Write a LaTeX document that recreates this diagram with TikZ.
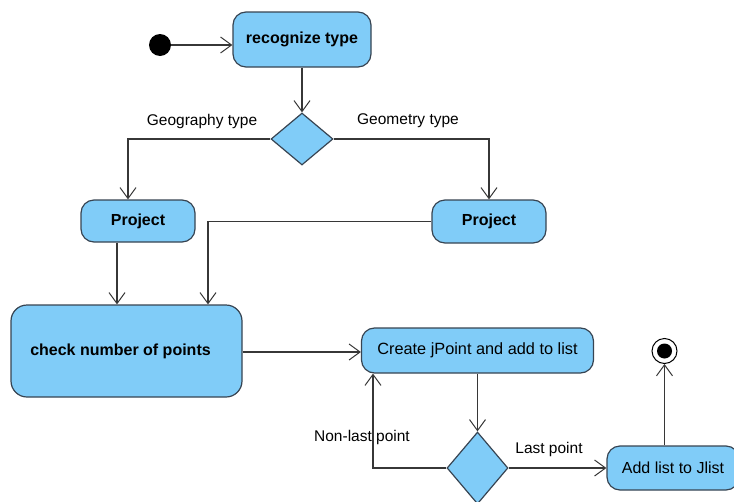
\documentclass[tikz,border=0pt]{standalone}
\usepackage{fontspec}
\setmainfont{Liberation Sans}
\usetikzlibrary{arrows.meta,shapes.geometric}
\definecolor{boxfill}{RGB}{128,204,248}
\definecolor{boxline}{RGB}{55,68,82}
\definecolor{conn}{RGB}{55,55,55}
\tikzset{
  act/.style={draw=boxline, fill=boxfill, line width=1.2pt, rounded corners=13pt, inner sep=0pt, font=\fontsize{16}{19}\selectfont},
  boldact/.style={act, font=\fontsize{16}{19}\selectfont\bfseries},
  dec/.style={diamond, draw=boxline, fill=boxfill, line width=1.2pt, inner sep=0pt, aspect=1},
  arr/.style={draw=conn, line width=1.1pt, -{Straight Barb[length=11pt,width=16pt,line width=1pt]}},
  lbl/.style={inner sep=0pt, font=\fontsize{15.5}{18}\selectfont},
}
\begin{document}
\begin{tikzpicture}[x=1pt,y=-1pt]
\useasboundingbox (0,0) rectangle (734,501);
% nodes
\node[circle, fill=black, minimum size=22pt, inner sep=0pt] (start) at (160,45) {};
\node[boldact, minimum width=138pt, minimum height=55pt] (rec) at (302,39.5) {recognize type};
\node[dec, minimum width=62pt, minimum height=52pt] (d1) at (302,139) {};
\node[boldact, minimum width=114pt, minimum height=42pt] (pl) at (138,221) {Project};
\node[boldact, minimum width=114pt, minimum height=43pt] (pr) at (489,221.5) {Project};
\node[boldact, minimum width=231pt, minimum height=92pt, rounded corners=16pt] (chk) at (126.5,351) {\hspace*{-12pt}check number of points};
\node[act, minimum width=232pt, minimum height=45pt, font=\fontsize{16.3}{19}\selectfont] (cr) at (477.5,350.5) {Create jPoint and add to list};
\node[dec, minimum width=61pt, minimum height=72pt] (d2) at (477.5,468) {};
\node[act, minimum width=132pt, minimum height=44pt] (al) at (673,468) {Add list to Jlist};
\node[circle, draw=black, fill=white, line width=1pt, minimum size=25pt, inner sep=0pt] (end) at (664.5,351) {};
\node[circle, fill=black, minimum size=15pt, inner sep=0pt] at (end) {};
% labels
\node[lbl] (lgeo) at (202,121) {Geography type};
\node[lbl] (lgem) at (408,121) {Geometry type};
\node[lbl] (lnon) at (362,437) {Non-last point};
\node[lbl] (llast) at (549,449) {Last point};
% connectors
\draw[arr] (start.east |- 0,45) -- (rec.west |- 0,45);
\draw[arr] (rec.south) -- (d1.north);
\draw[arr] (d1.west) -| ([xshift=-10pt]pl.north);
\draw[arr] (d1.east) -| (pr.north);
\draw[arr] (pr.west) -| ([xshift=81.5pt]chk.north);
\draw[arr] ([xshift=-21pt]pl.south) -- ([xshift=-21pt]pl.south |- chk.north);
\draw[arr] (chk.east |- 0,352) -- (cr.west |- 0,352);
\draw[arr] (cr.south) -- (d2.north);
\draw[arr] (d2.west) -| ([xshift=-104.5pt]cr.south);
\draw[arr] (d2.east) -- (al.west);
\draw[arr] ([xshift=-8.5pt]al.north) -- (end.south);
\end{tikzpicture}
\end{document}
